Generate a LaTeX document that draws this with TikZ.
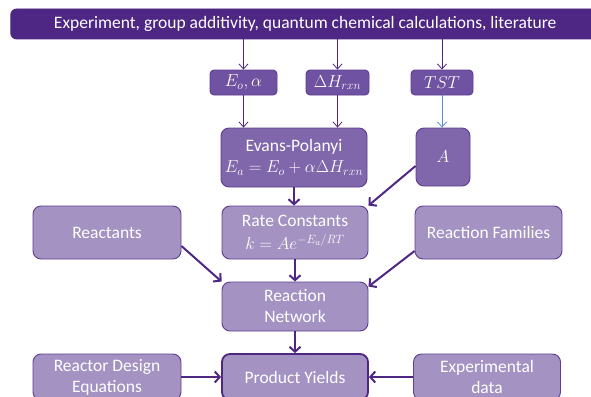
\documentclass[tikz,border=0pt]{standalone}
\usepackage{amsmath}
\usepackage{fontspec}
\setmainfont{Carlito}
\usepackage{xcolor}
\usetikzlibrary{arrows.meta}
\definecolor{timdam}{HTML}{4E2683}
\definecolor{timvua}{HTML}{7052A2}
\definecolor{timnhat}{HTML}{A392C2}
\definecolor{timgiua}{HTML}{8066AA}
\definecolor{vien}{HTML}{5E3D92}
\definecolor{xanh}{HTML}{5B8CD5}

\begin{document}
\begin{tikzpicture}[x=1pt,y=-1pt,
		hop/.style={draw=vien,line width=0.9pt,rounded corners=8pt,fill=timnhat,text=white,align=center,
			font=\fontsize{17.5}{21}\selectfont,inner sep=2pt,minimum width=147pt,minimum height=53pt},
		hopnho/.style={hop,fill=timvua,rounded corners=4pt,minimum width=63pt,minimum height=25pt},
		muimanh/.style={draw=timdam,line width=0.8pt,-{Straight Barb[length=5pt,width=9pt]}},
		muiday/.style={draw=timdam,line width=2pt,-{Straight Barb[length=5pt,width=11pt]}}]
	\useasboundingbox (0,0) rectangle (591,396);
	\clip (0,0) rectangle (591,396);
	% Thanh tren cung
	\node[hop,fill=timdam,draw=timdam,rounded corners=6pt,minimum width=589pt,minimum height=30pt] (bar) at (305.25,24)
		{Experiment, group additivity, quantum chemical calculations, literature};
	% Cac hop nho
	\node[hopnho,minimum width=67pt] (eo) at (243.5,82.5) {$E_o,\mathrm{\alpha}$};
	\node[hopnho] (dh) at (337.5,82.5) {$\Delta H_{rxn}$};
	\node[hopnho,minimum width=62pt] (tst) at (442,82.5) {$TST$};
	\node[hop,fill=timgiua,minimum width=146pt,minimum height=59pt] (evans) at (294,157.5)
		{Evans-Polanyi\\[0pt]$E_a = E_o + \alpha\Delta H_{rxn}$};
	\node[hop,fill=timgiua,minimum width=54pt,minimum height=58pt] (A) at (443,157) {$A$};
	% Hang giua
	\node[hop,minimum width=148pt] (reac) at (107,232.5) {Reactants};
	\node[hop,minimum width=146pt] (rate) at (295,232.5) {Rate Constants\\[2pt]$k = Ae^{-E_a/RT}$};
	\node[hop] (fam) at (488.5,232.5) {Reaction Families};
	\node[hop,minimum width=146pt,minimum height=49pt] (net) at (295,306.5) {Reaction\\Network};
	% Hang duoi
	\node[hop,minimum width=148pt,minimum height=46pt] (reactor) at (107,377) {Reactor Design\\Equations};
	\node[hop,minimum width=146pt,minimum height=46pt,draw=timdam,line width=1.8pt] (prod) at (295,377) {Product Yields};
	\node[hop,minimum height=46pt] (exp) at (487,377) {Experimental\\data};
	% Mui ten
	\foreach \n in {eo,dh,tst}
		\draw[muimanh] (\n.north |- bar.south) -- (\n.north);
	\foreach \n in {eo,dh}
		\draw[muimanh] (\n.south) -- (\n.south |- evans.north);
	\draw[muimanh,draw=xanh] (tst.south) -- (tst.south |- A.north);
	\draw[muiday] (evans.south) -- (evans.south |- rate.north);
	\draw[muiday] ([yshift=-9pt]A.west) -- (rate.north east);
	\draw[muiday] ([yshift=-13.5pt]reac.east) -- (net.north west);
	\draw[muiday] ([yshift=-18.5pt]fam.west) -- ([yshift=-5pt]net.north east);
	\draw[muiday] (rate.south) -- (net.north);
	\draw[muiday] (net.south) -- (prod.north);
	\draw[muiday] (reactor.east) -- (prod.west);
	\draw[muiday] (exp.west) -- (prod.east);
\end{tikzpicture}
\end{document}
